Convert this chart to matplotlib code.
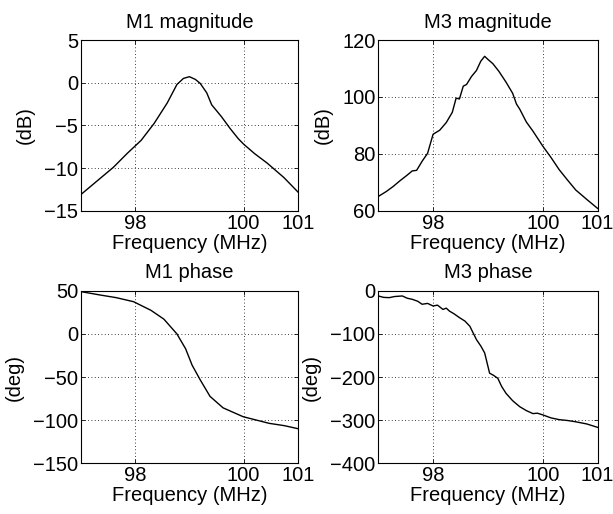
import numpy as np
import matplotlib
matplotlib.use("Agg")
import matplotlib.pyplot as plt

plt.rcParams['font.family'] = ['Liberation Sans', 'DejaVu Sans']
plt.rcParams['font.size'] = 14.5

# M1 magnitude (dB)
m1_mag_f = [97.0, 97.3, 97.6, 97.85, 98.11, 98.35, 98.59, 98.77, 98.89, 99.0, 99.11,
            99.2, 99.32, 99.41, 99.59, 99.75, 99.9, 100.0, 100.2, 100.43, 100.74, 101.0]
m1_mag = [-13.1, -11.5, -9.9, -8.3, -6.75, -4.76, -2.38, -0.2, 0.51, 0.71, 0.39,
          -0.08, -1.19, -2.58, -3.97, -5.36, -6.55, -7.2, -8.3, -9.4, -11.1, -12.8]

# M3 magnitude (dB)
m3_mag_f = [97.0, 97.15, 97.27, 97.4, 97.52, 97.62, 97.7, 97.8, 97.9, 98.0, 98.12,
            98.24, 98.35, 98.42, 98.48, 98.55, 98.61, 98.7, 98.79, 98.87, 98.94,
            99.0, 99.09, 99.2, 99.33, 99.45, 99.52, 99.58, 99.7, 99.82, 100.0,
            100.15, 100.3, 100.45, 100.6, 100.8, 101.0]
m3_mag = [65.0, 66.8, 68.5, 70.6, 72.4, 74.0, 74.2, 77.4, 80.2, 86.9, 88.3,
          91.0, 94.6, 99.6, 99.3, 103.8, 104.4, 107.2, 109.3, 112.6, 114.3,
          113.2, 111.7, 109.0, 105.2, 101.3, 97.5, 95.7, 91.2, 88.0, 82.7,
          78.7, 74.4, 70.8, 67.3, 64.0, 60.8]

# M1 phase (deg)
m1_ph_f = [97.0, 97.35, 97.65, 97.97, 98.29, 98.53, 98.77, 98.93, 99.05, 99.2,
           99.38, 99.62, 99.99, 100.47, 100.75, 101.0]
m1_ph = [49.2, 45.3, 42.2, 37.5, 27.5, 17.2, 0.0, -17.2, -36.3, -53.4,
         -72.5, -85.8, -96.1, -103.8, -106.5, -110.0]

# M3 phase (deg)
m3_ph_f = [97.0, 97.1, 97.2, 97.3, 97.44, 97.53, 97.62, 97.72, 97.8, 97.9, 98.0,
           98.08, 98.18, 98.24, 98.3, 98.38, 98.48, 98.58, 98.67, 98.79, 98.87,
           98.94, 99.03, 99.1, 99.18, 99.25, 99.33, 99.45, 99.58, 99.7, 99.82,
           99.9, 100.0, 100.15, 100.3, 100.45, 100.6, 100.8, 101.0]
m3_ph = [-11.7, -15.0, -15.6, -13.0, -11.7, -17.0, -19.5, -24.0, -31.0, -29.0, -35.0,
         -33.0, -43.0, -40.0, -47.0, -53.0, -62.0, -70.0, -82.0, -113.0, -128.0,
         -144.0, -191.0, -196.0, -203.0, -222.0, -238.0, -255.0, -269.0, -278.0, -285.0,
         -284.0, -288.0, -295.0, -299.0, -301.0, -304.0, -309.0, -317.0]

xticks = [98, 100, 101]

panels = [
    ("M1 magnitude", "(dB)", m1_mag_f, m1_mag, (-15, 5), [-15, -10, -5, 0, 5]),
    ("M3 magnitude", "(dB)", m3_mag_f, m3_mag, (60, 120), [60, 80, 100, 120]),
    ("M1 phase", "(deg)", m1_ph_f, m1_ph, (-150, 50), [-150, -100, -50, 0, 50]),
    ("M3 phase", "(deg)", m3_ph_f, m3_ph, (-400, 0), [-400, -300, -200, -100, 0]),
]

positions = [
    [0.132, 0.590, 0.354, 0.332],
    [0.617, 0.590, 0.358, 0.332],
    [0.132, 0.099, 0.354, 0.335],
    [0.617, 0.099, 0.358, 0.335],
]

fig = plt.figure(figsize=(6.13, 5.14), dpi=100)

for (title, ylab, f, v, ylim, yt), pos in zip(panels, positions):
    ax = fig.add_axes(pos)
    ax.plot(f, v, color="black", linewidth=1.0)
    ax.set_xlim(97, 101)
    ax.set_ylim(*ylim)
    ax.set_xticks(xticks)
    ax.set_yticks(yt)
    ax.grid(True, linestyle=(0, (1, 3)), color="black", linewidth=0.6)
    ax.tick_params(direction="in", length=3, width=0.6, top=True, right=True,
                   labelsize=14.5, pad=2)
    for s in ax.spines.values():
        s.set_linewidth(0.8)
    ax.set_title(title, fontsize=14.5, pad=9)
    ax.set_xlabel("Frequency (MHz)", fontsize=14.5, labelpad=1)
    ax.set_ylabel(ylab, fontsize=14.5, labelpad=7)

fig.savefig("out.png", dpi=100)
